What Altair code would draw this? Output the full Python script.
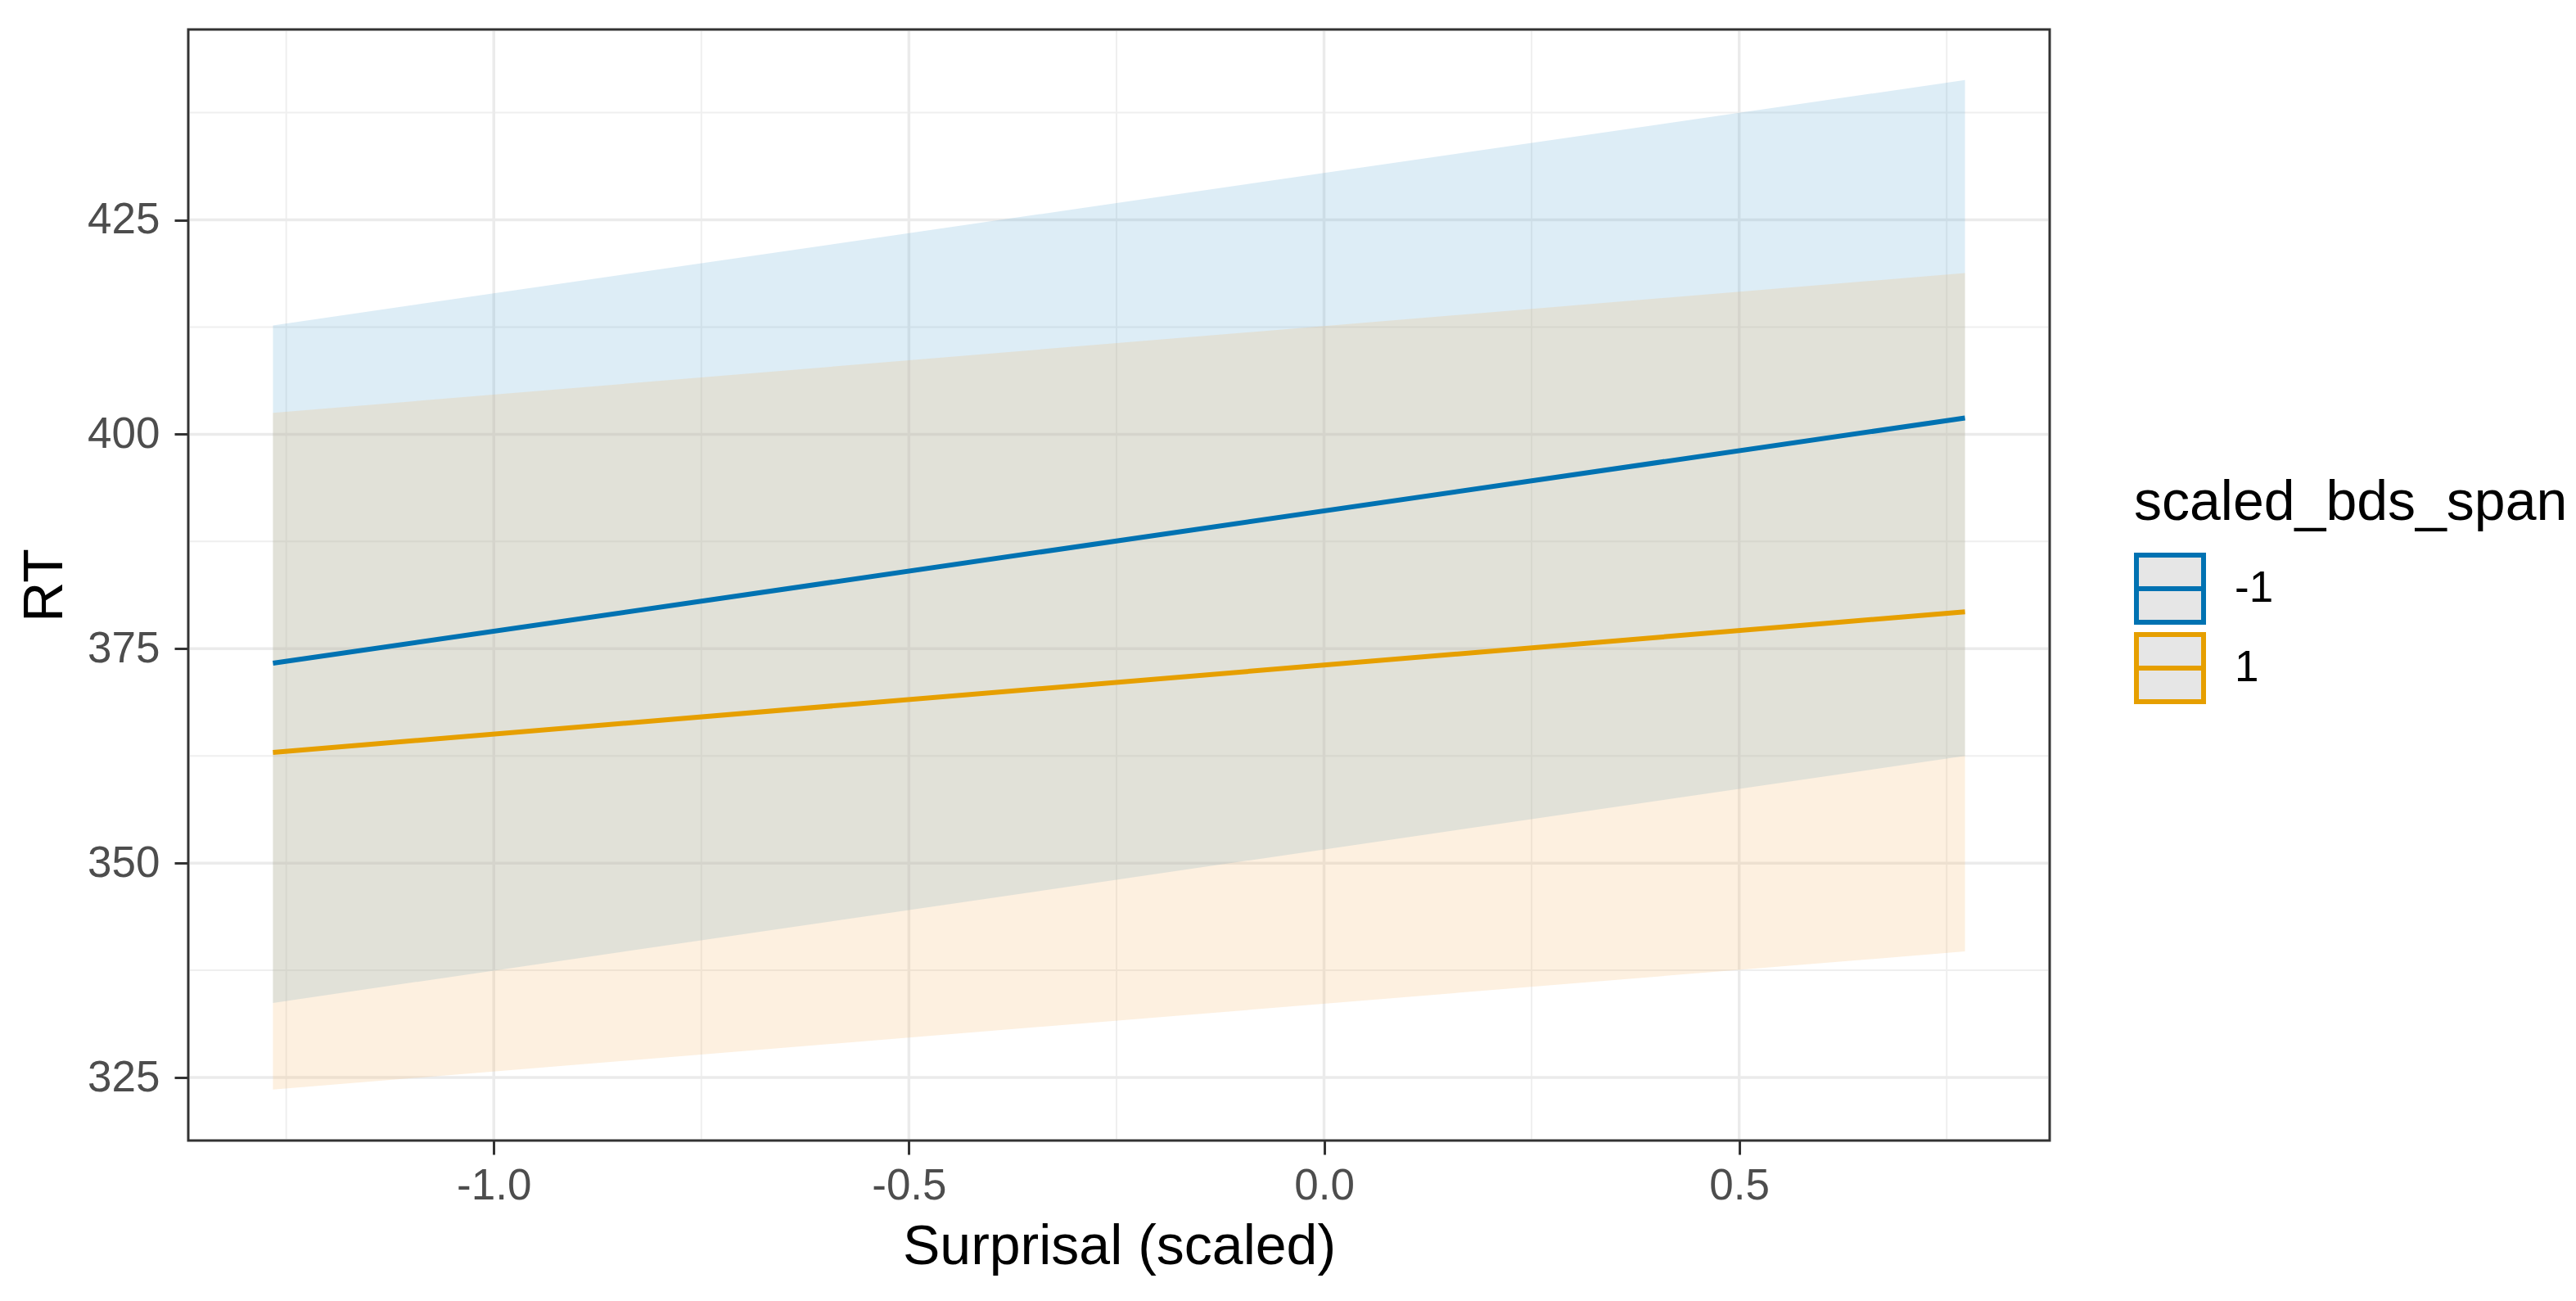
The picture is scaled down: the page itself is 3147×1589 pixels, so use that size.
import altair as alt
import pandas as pd

# ---- data ----
surprisal = [-1.266, 0.772]
span_levels = ["-1", "1"]
fit_neg = [373.3, 401.9]
lo_neg = [333.7, 362.5]
hi_neg = [412.7, 441.3]
fit_pos = [362.9, 379.3]
lo_pos = [323.6, 339.7]
hi_pos = [402.5, 418.8]

x_major = [-1.0, -0.5, 0.0, 0.5]
x_minor = [-1.25, -0.75, -0.25, 0.25, 0.75]
y_major = [325, 350, 375, 400, 425]
y_minor = [337.5, 362.5, 387.5, 412.5, 437.5]

line_colors = ["#0072B2", "#E69F00"]
band_colors = ["#55A5D2", "#F5B464"]

rows = []
for i, x in enumerate(surprisal):
    rows.append({"x": x, "g": span_levels[0], "fit": fit_neg[i], "lo": lo_neg[i], "hi": hi_neg[i]})
for i, x in enumerate(surprisal):
    rows.append({"x": x, "g": span_levels[1], "fit": fit_pos[i], "lo": lo_pos[i], "hi": hi_pos[i]})
df = pd.DataFrame(rows)

W, H = 2274, 1357
FONT = "Liberation Sans"

xscale = alt.Scale(domain=[-1.368, 0.874], nice=False, zero=False)
yscale = alt.Scale(domain=[317.65, 447.2], nice=False, zero=False)

xaxis = alt.Axis(
    title="Surprisal (scaled)", values=x_major, grid=False, domain=False,
    labelExpr="datum.value < 0 ? '-' + format(-datum.value, '.1f') : format(datum.value, '.1f')",
    labelFontSize=53, labelColor="#4D4D4D", labelFont=FONT, labelPadding=12,
    tickSize=17, tickWidth=3, tickColor="#333333",
    titleFontSize=68, titleFont=FONT, titleFontWeight="normal", titleColor="#000000",
    titlePadding=14,
)
yaxis = alt.Axis(
    title="RT", values=y_major, grid=False, domain=False,
    labelFontSize=53, labelColor="#4D4D4D", labelFont=FONT, labelPadding=18,
    tickSize=17, tickWidth=3, tickColor="#333333",
    titleFontSize=68, titleFont=FONT, titleFontWeight="normal", titleColor="#000000",
    titlePadding=17,
)

gx_major = alt.Chart(pd.DataFrame({"v": x_major})).mark_rule(color="#EBEBEB", strokeWidth=3.5).encode(
    x=alt.X("v:Q", scale=xscale, axis=xaxis), y=alt.value(2), y2=alt.value(H - 2))
gx_minor = alt.Chart(pd.DataFrame({"v": x_minor})).mark_rule(color="#EFEFEF", strokeWidth=2).encode(
    x=alt.X("v:Q", scale=xscale), y=alt.value(2), y2=alt.value(H - 2))
gy_major = alt.Chart(pd.DataFrame({"v": y_major})).mark_rule(color="#EBEBEB", strokeWidth=3.5).encode(
    y=alt.Y("v:Q", scale=yscale, axis=yaxis), x=alt.value(2), x2=alt.value(W - 2))
gy_minor = alt.Chart(pd.DataFrame({"v": y_minor})).mark_rule(color="#EFEFEF", strokeWidth=2).encode(
    y=alt.Y("v:Q", scale=yscale), x=alt.value(2), x2=alt.value(W - 2))

band_neg = alt.Chart(df).transform_filter(alt.datum.g == span_levels[0]).mark_area(
    color=band_colors[0], opacity=0.2).encode(
    x=alt.X("x:Q", scale=xscale), y=alt.Y("lo:Q", scale=yscale), y2="hi:Q")
band_pos = alt.Chart(df).transform_filter(alt.datum.g == span_levels[1]).mark_area(
    color=band_colors[1], opacity=0.2).encode(
    x=alt.X("x:Q", scale=xscale), y=alt.Y("lo:Q", scale=yscale), y2="hi:Q")

lines = alt.Chart(df).mark_line(strokeWidth=6).encode(
    x=alt.X("x:Q", scale=xscale),
    y=alt.Y("fit:Q", scale=yscale),
    color=alt.Color(
        "g:N",
        scale=alt.Scale(domain=span_levels, range=line_colors),
        sort=span_levels,
        legend=alt.Legend(
            title="scaled_bds_span", orient="none", legendX=2377, legendY=545,
            titleFontSize=68, titleFont=FONT, titleFontWeight="normal", titleColor="#000000",
            titlePadding=26, labelFontSize=53, labelFont=FONT, labelColor="#000000",
            labelOffset=35, symbolSize=6724, symbolStrokeWidth=6,
            symbolType="M-1,-1H1V1H-1Z M-1,0H1", symbolFillColor="#E6E6E6",
            rowPadding=-17, padding=0, titleLimit=2000,
        ),
    ),
)

chart = alt.layer(gx_minor, gy_minor, gx_major, gy_major, band_neg, band_pos, lines).properties(
    width=W, height=H,
    autosize=alt.AutoSizeParams(type="none"),
    padding={"left": 222, "top": 28, "right": 633, "bottom": 186},
    background="white",
).configure_view(stroke="#333333", strokeWidth=3)

chart.save("out.html", embed_options={"renderer": "svg", "actions": False})
